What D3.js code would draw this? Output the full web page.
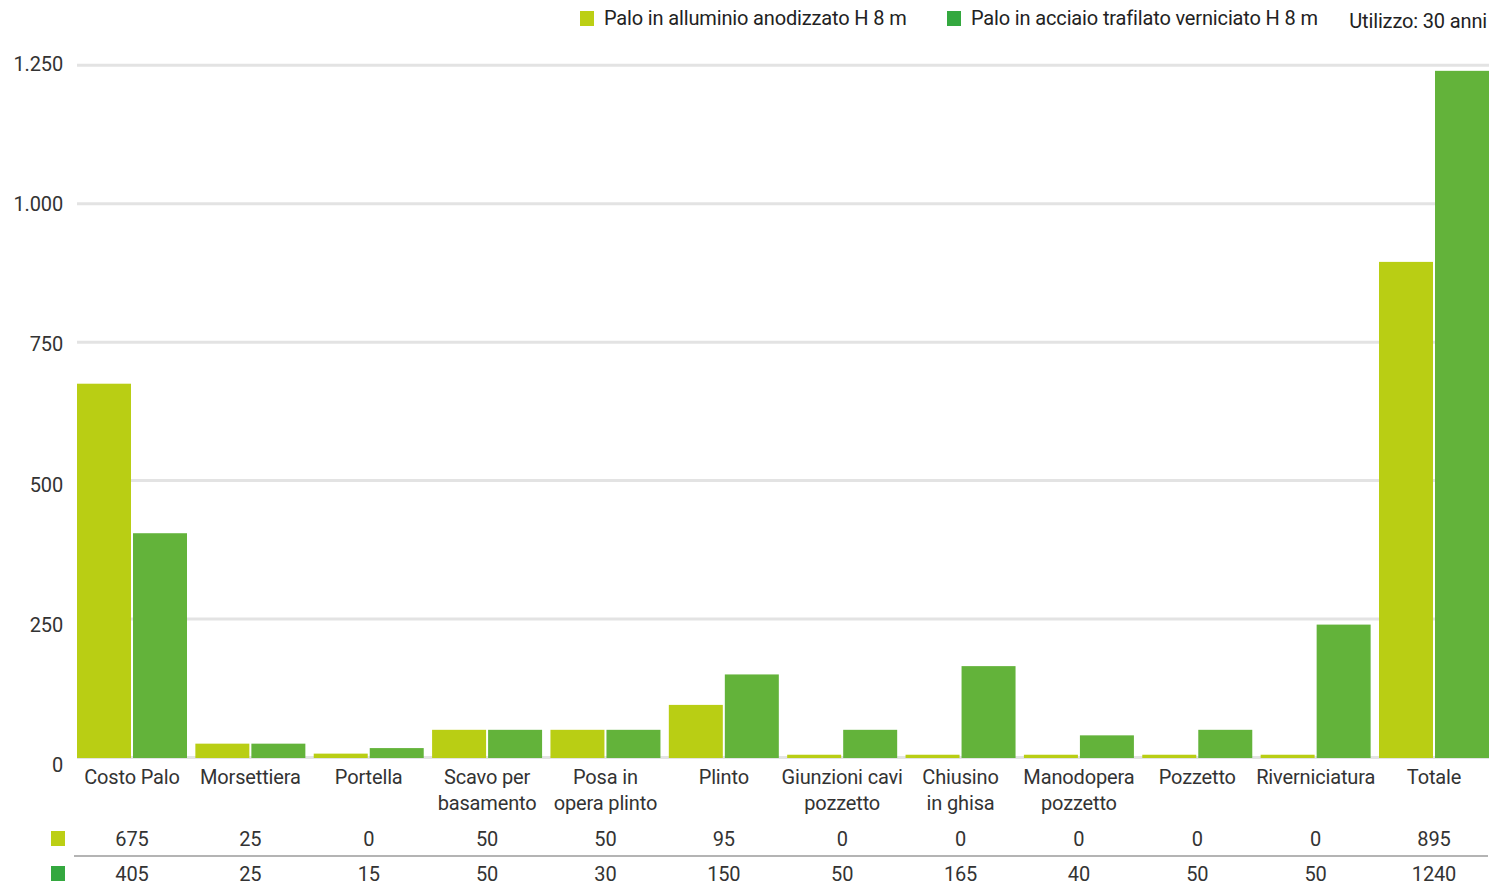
<!DOCTYPE html>
<html>
<head>
<meta charset="utf-8">
<script src="https://cdn.jsdelivr.net/npm/d3@7"></script>
<style>
  html, body { margin: 0; padding: 0; background: #fff; }
  svg { display: block; font-family: Roboto, "Noto Sans", sans-serif; letter-spacing: -0.15px; }
</style>
</head>
<body>
<svg id="chart" width="1503" height="887"></svg>
<script>
// ---- data ----
const categories = [
  ["Costo Palo"], ["Morsettiera"], ["Portella"], ["Scavo per", "basamento"],
  ["Posa in", "opera plinto"], ["Plinto"], ["Giunzioni cavi", "pozzetto"],
  ["Chiusino", "in ghisa"], ["Manodopera", "pozzetto"], ["Pozzetto"],
  ["Riverniciatura"], ["Totale"]
];
const seriesNames = ["Palo in alluminio anodizzato H 8 m", "Palo in acciaio trafilato verniciato H 8 m"];
// bar heights as drawn
const barsAlluminio = [675, 25, 7, 50, 50, 95, 5, 5, 5, 5, 5, 895];
const barsAcciaio   = [405, 25, 17, 50, 50, 150, 50, 165, 40, 50, 240, 1240];
// values shown in the data table
const tableAlluminio = ["675", "25", "0", "50", "50", "95", "0", "0", "0", "0", "0", "895"];
const tableAcciaio   = ["405", "25", "15", "50", "30", "150", "50", "165", "40", "50", "50", "1240"];
const yTicks = [0, 250, 500, 750, 1000, 1250];
const yTickLabels = ["0", "250", "500", "750", "1.000", "1.250"];
const noteText = "Utilizzo: 30 anni";

(function () {
// ---- styles ----
const barColors = ["#b9ce14", "#63b33a"];
const keyColors = ["#bccf14", "#34a83f"];
const textColor = "#333";

const svg = d3.select("#chart");
const plotLeft = 77, plotRight = 1489, plotTop = 65, plotBottom = 758;

const x0 = d3.scaleBand().domain(d3.range(categories.length)).range([plotLeft, plotRight])
  .paddingInner(0.0707).paddingOuter(0);
const x1 = d3.scaleBand().domain([0, 1]).range([0, x0.bandwidth()]).paddingInner(0.036);
const y = d3.scaleLinear().domain([0, 1250]).range([plotBottom - 0.5, plotTop + 0.3]);
const yLab = d3.scaleLinear().domain([0, 1250]).range([765, 64]);

// gridlines
svg.append("g").selectAll("line").data(yTicks).join("line")
  .attr("x1", plotLeft).attr("x2", plotRight)
  .attr("y1", d => y(d)).attr("y2", d => y(d))
  .attr("stroke", "#e3e3e3").attr("stroke-width", 3);

// y labels
svg.append("g").selectAll("text").data(yTicks).join("text")
  .attr("x", 63).attr("y", d => yLab(d))
  .attr("text-anchor", "end").attr("dominant-baseline", "central")
  .attr("font-size", 20).attr("fill", textColor)
  .text((d, i) => yTickLabels[i]);

// bars
const series = [barsAlluminio, barsAcciaio];
series.forEach((vals, s) => {
  svg.append("g").selectAll("rect").data(vals).join("rect")
    .attr("x", (d, i) => x0(i) + x1(s))
    .attr("width", x1.bandwidth())
    .attr("y", d => y(d))
    .attr("height", d => plotBottom - y(d))
    .attr("fill", barColors[s]);
});

// category labels
const catG = svg.append("g");
categories.forEach((lines, i) => {
  const t = catG.append("text")
    .attr("x", x0(i) + x0.bandwidth() / 2)
    .attr("text-anchor", "middle").attr("font-size", 20).attr("fill", textColor);
  lines.forEach((ln, k) => {
    t.append("tspan").attr("x", x0(i) + x0.bandwidth() / 2)
      .attr("y", 777 + k * 26).attr("dominant-baseline", "central").text(ln);
  });
});

// data table
const tables = [tableAlluminio, tableAcciaio];
const rowY = [839, 874];
tables.forEach((vals, s) => {
  svg.append("rect").attr("x", 51).attr("y", rowY[s] - 8).attr("width", 14).attr("height", 15)
    .attr("fill", keyColors[s]);
  svg.append("g").selectAll("text").data(vals).join("text")
    .attr("x", (d, i) => x0(i) + x0.bandwidth() / 2)
    .attr("y", rowY[s])
    .attr("text-anchor", "middle").attr("dominant-baseline", "central")
    .attr("font-size", 20).attr("fill", textColor)
    .text(d => d);
});
svg.append("line").attr("x1", 74).attr("x2", 1488).attr("y1", 856).attr("y2", 856)
  .attr("stroke", "#b4b4b4").attr("stroke-width", 2);

// legend
const legendX = [580, 947];
seriesNames.forEach((name, s) => {
  svg.append("rect").attr("x", legendX[s]).attr("y", 11).attr("width", 14).attr("height", 15)
    .attr("fill", keyColors[s]);
  svg.append("text").attr("x", legendX[s] + 24).attr("y", 18)
    .attr("dominant-baseline", "central").attr("font-size", 20).attr("fill", "#222")
    .text(name);
});
svg.append("text").attr("x", 1487).attr("y", 21).attr("text-anchor", "end")
  .attr("dominant-baseline", "central").attr("font-size", 20).attr("fill", "#222")
  .text(noteText);
})();
</script>
</body>
</html>
